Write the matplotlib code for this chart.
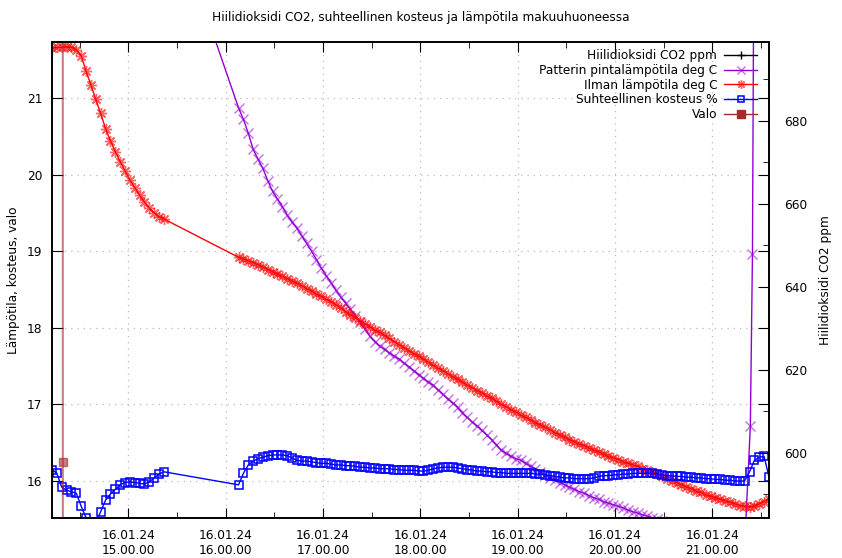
import matplotlib
matplotlib.use("Agg")
import matplotlib.pyplot as plt
import matplotlib.dates as mdates
import pandas as pd

# 1. jakso 14:13 - 15:22, 3 min välein
ilma_1 = [21.65, 21.66, 21.66, 21.67, 21.66, 21.63, 21.55, 21.35, 21.17, 20.98,
          20.80, 20.60, 20.44, 20.30, 20.17, 20.05, 19.93, 19.83, 19.73, 19.64,
          19.56, 19.50, 19.45, 19.42]
kosteus_1 = [16.15, 16.10, 15.92, 15.88, 15.86, 15.84, 15.67, 15.52, 15.44, 15.46,
             15.60, 15.75, 15.83, 15.89, 15.95, 15.98, 15.99, 15.98, 15.97, 15.96,
             15.99, 16.04, 16.09, 16.12]

# 2. jakso 16:08 - 21:35, 3 min välein
ilma_2 = [18.92, 18.90, 18.87, 18.85, 18.82, 18.79, 18.76, 18.73, 18.70, 18.67,
          18.64, 18.61, 18.58, 18.55, 18.51, 18.48, 18.44, 18.41, 18.37, 18.34,
          18.30, 18.26, 18.21, 18.17, 18.13, 18.09, 18.05, 18.01, 17.97, 17.94,
          17.90, 17.86, 17.82, 17.78, 17.74, 17.70, 17.66, 17.63, 17.59, 17.55,
          17.51, 17.47, 17.44, 17.40, 17.36, 17.33, 17.29, 17.25, 17.22, 17.18,
          17.15, 17.11, 17.08, 17.04, 17.00, 16.97, 16.93, 16.90, 16.86, 16.83,
          16.80, 16.76, 16.73, 16.70, 16.67, 16.63, 16.60, 16.57, 16.54, 16.51,
          16.48, 16.46, 16.43, 16.40, 16.38, 16.35, 16.32, 16.30, 16.28, 16.25,
          16.23, 16.21, 16.19, 16.16, 16.14, 16.12, 16.09, 16.06, 16.03, 16.00,
          15.98, 15.95, 15.92, 15.90, 15.87, 15.85, 15.82, 15.80, 15.78, 15.76,
          15.74, 15.72, 15.70, 15.68, 15.67, 15.66, 15.67, 15.70, 15.73, 15.77]
kosteus_2 = [15.95, 16.10, 16.21, 16.26, 16.29, 16.31, 16.33, 16.34, 16.34, 16.34,
             16.33, 16.30, 16.27, 16.26, 16.26, 16.25, 16.24, 16.23, 16.23, 16.22,
             16.21, 16.21, 16.20, 16.20, 16.19, 16.18, 16.18, 16.17, 16.17, 16.16,
             16.16, 16.16, 16.15, 16.15, 16.14, 16.14, 16.14, 16.13, 16.13, 16.14,
             16.16, 16.17, 16.18, 16.18, 16.18, 16.17, 16.16, 16.15, 16.14, 16.13,
             16.13, 16.12, 16.12, 16.11, 16.11, 16.10, 16.10, 16.10, 16.10, 16.10,
             16.10, 16.09, 16.09, 16.08, 16.07, 16.06, 16.05, 16.04, 16.04, 16.03,
             16.03, 16.03, 16.03, 16.04, 16.06, 16.07, 16.07, 16.08, 16.08, 16.09,
             16.09, 16.10, 16.10, 16.10, 16.10, 16.10, 16.09, 16.08, 16.07, 16.07,
             16.06, 16.06, 16.05, 16.05, 16.04, 16.04, 16.03, 16.03, 16.02, 16.02,
             16.01, 16.01, 16.00, 16.00, 16.00, 16.12, 16.27, 16.31, 16.32, 16.05]
patteri_2 = [20.87, 20.72, 20.54, 20.33, 20.20, 20.08, 19.92, 19.78, 19.68, 19.58,
             19.47, 19.38, 19.30, 19.20, 19.10, 19.00, 18.89, 18.78, 18.68, 18.59,
             18.49, 18.40, 18.32, 18.24, 18.16, 18.07, 17.98, 17.89, 17.82, 17.76,
             17.72, 17.67, 17.63, 17.59, 17.54, 17.49, 17.44, 17.39, 17.34, 17.29,
             17.25, 17.19, 17.13, 17.07, 17.02, 16.96, 16.89, 16.83, 16.77, 16.72,
             16.66, 16.60, 16.54, 16.47, 16.40, 16.36, 16.32, 16.29, 16.27, 16.23,
             16.19, 16.16, 16.12, 16.08, 16.04, 16.01, 15.98, 15.95, 15.92, 15.89,
             15.86, 15.84, 15.81, 15.78, 15.76, 15.73, 15.71, 15.69, 15.67, 15.65,
             15.62, 15.60, 15.58, 15.56, 15.54, 15.52, 15.50, 15.48, 15.46, 15.44,
             15.42, 15.40, 15.38, 15.36, 15.34, 15.32, 15.30, 15.28, 15.26, 15.24,
             15.22, 15.20, 15.18, 15.16, 15.14]
patteri_alku_aika = ["2024-01-16 15:22:00"]
patteri_alku = [23.7]
patteri_loppu_aika = ["2024-01-16 21:23:30", "2024-01-16 21:24:48", "2024-01-16 21:26:00"]
patteri_loppu = [16.72, 18.96, 24.5]

valo_aika = ["2024-01-16 14:19:15", "2024-01-16 14:19:40", "2024-01-16 14:20:00"]
valo = [120, 16.25, 0]

co2_aika = []
co2 = []

aika_1 = pd.date_range("2024-01-16 14:13", periods=len(ilma_1), freq="3min")
aika_2 = pd.date_range("2024-01-16 16:08", periods=len(ilma_2), freq="3min")
aika = aika_1.append(aika_2)

patteri_aika = (pd.to_datetime(patteri_alku_aika)
                .append(aika_2[:len(patteri_2)])
                .append(pd.to_datetime(patteri_loppu_aika)))
patteri = patteri_alku + patteri_2 + patteri_loppu

fs = 8.7
plt.rcParams['font.family'] = 'DejaVu Sans'
plt.rcParams['font.size'] = fs

fig = plt.figure(figsize=(8.42, 5.58), dpi=100)
ax = fig.add_axes([52/842, 1 - 518/558, 717/842, 476/558])
ax2 = ax.twinx()

h_co2, = ax2.plot(pd.to_datetime(co2_aika), co2, color='black', marker='+',
                  lw=1, ms=8, label="Hiilidioksidi CO2 ppm")
h_pat, = ax.plot(patteri_aika, patteri, color='#9400d3', lw=1, marker='x', ms=7,
                 mec=(0.58, 0.0, 0.83, 0.55), mew=1, label="Patterin pintalämpötila deg C")
h_ilm, = ax.plot(aika, ilma_1 + ilma_2, color='#ff0000', lw=1, marker=(8, 2, 0), ms=8,
                 mec=(1, 0, 0, 0.6), mew=1, label="Ilman lämpötila deg C")
h_kos, = ax.plot(aika, kosteus_1 + kosteus_2, color='#0000ff', lw=1, marker='s', ms=5.5,
                 mfc='none', mew=1.1, label="Suhteellinen kosteus %")
h_val, = ax.plot(pd.to_datetime(valo_aika), valo, color='#a52a2a', lw=1.5, alpha=0.6,
                 marker='s', ms=6, label="Valo")
h_val_leg, = ax.plot([], [], color='#a52a2a', lw=1, marker='s', ms=7, label="Valo")

ax.set_xlim(pd.Timestamp("2024-01-16 14:13"), pd.Timestamp("2024-01-16 21:35"))
ax.set_ylim(15.517, 21.73)
ax2.set_ylim(584.3, 699.0)

ax.xaxis.set_major_locator(mdates.HourLocator())
ax.xaxis.set_minor_locator(mdates.MinuteLocator(byminute=[30]))
ax.xaxis.set_major_formatter(mdates.DateFormatter("%d.%m.%y\n%H.%M.%S"))
ax.set_yticks([16, 17, 18, 19, 20, 21])
ax2.set_yticks([600, 620, 640, 660, 680])
ax2.set_yticks(range(590, 700, 10), minor=True)

ax.tick_params(axis='x', which='major', direction='in', length=7, top=True, pad=8, labelsize=fs)
ax.tick_params(axis='x', which='minor', direction='in', length=4, top=True)
ax.tick_params(axis='y', which='major', direction='in', length=8, right=True, pad=7, labelsize=fs)
ax2.tick_params(axis='y', which='major', direction='in', length=8, pad=11, labelsize=fs)
ax2.tick_params(axis='y', which='minor', direction='in', length=4)
for lbl in ax.get_xticklabels():
    lbl.set_horizontalalignment('center')

ax.grid(True, which='major', color='#bbbbbb', linestyle=(0, (1, 4)), lw=0.9)
for s in ax.spines.values():
    s.set_linewidth(1.2)
for s in ax2.spines.values():
    s.set_linewidth(1.2)

fig.text(0.5, 1 - 18/558, "Hiilidioksidi CO2, suhteellinen kosteus ja lämpötila makuuhuoneessa",
         ha='center', va='center', fontsize=fs)
fig.text(14/842, 1 - 280/558, "Lämpötila, kosteus, valo", rotation=90,
         ha='center', va='center', fontsize=fs)
fig.text(826/842, 1 - 280/558, "Hiilidioksidi CO2 ppm", rotation=90,
         ha='center', va='center', fontsize=fs)

leg = ax2.legend([h_co2, h_pat, h_ilm, h_kos, h_val_leg],
                 [h.get_label() for h in [h_co2, h_pat, h_ilm, h_kos, h_val_leg]],
                 loc='upper right', bbox_to_anchor=(757/842, 1 - 49/558),
                 bbox_transform=fig.transFigure, frameon=False, markerfirst=False,
                 borderpad=0, borderaxespad=0, handlelength=2.7, handletextpad=0.6,
                 labelspacing=0.15, numpoints=1, fontsize=fs, markerscale=0.75)

fig.savefig("out.png", dpi=100)
